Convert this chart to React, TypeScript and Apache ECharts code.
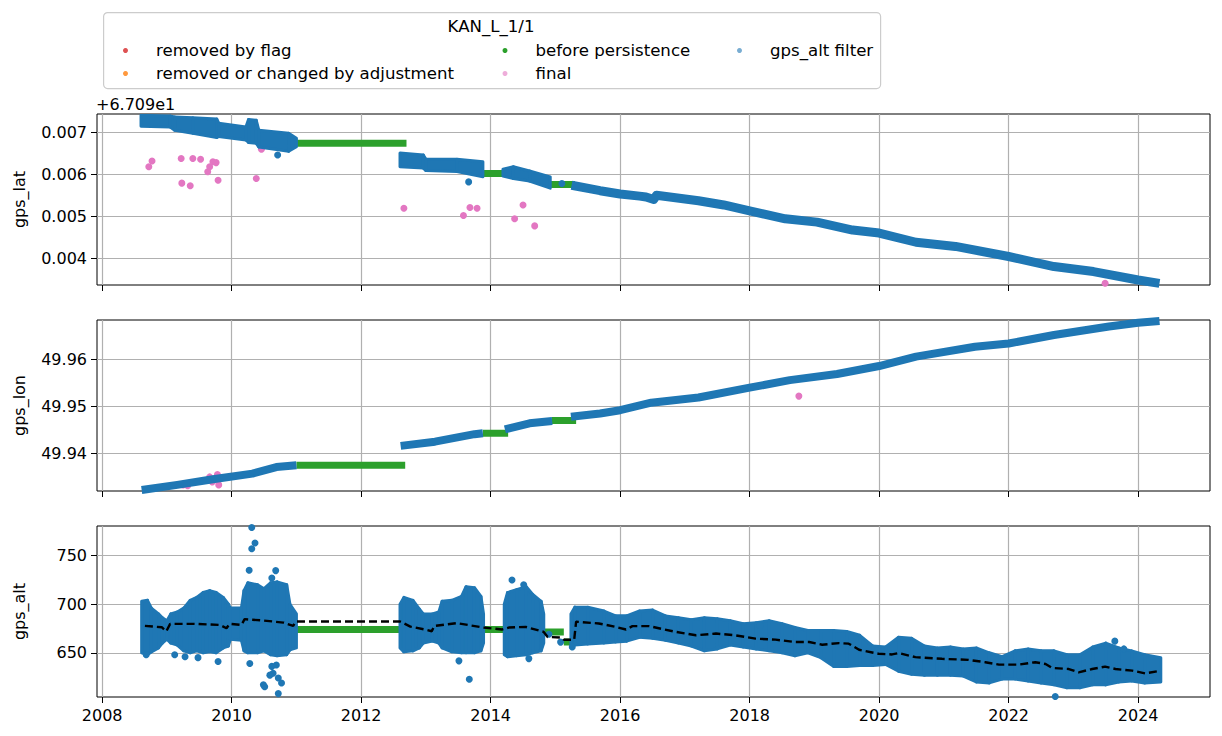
import React, { useEffect, useRef } from "react";
import * as echarts from "echarts";

const FONT = "DejaVu Sans";

// tick labels
const yearTicks = [2008, 2010, 2012, 2014, 2016, 2018, 2020, 2022, 2024];
const latTicks = [0.004, 0.005, 0.006, 0.007];
const lonTicks = [49.94, 49.95, 49.96];
const altTicks = [650, 700, 750];

// gps_lat (offset from 67.09): envelopes of the dense blue clusters [t, low, high]
const latClusters = [
  [
    [2008.6, 0.00715, 0.00741], [2009.05, 0.00713, 0.00739], [2009.12, 0.00705, 0.00737],
    [2009.4, 0.00698, 0.00735], [2009.77, 0.00688, 0.00732], [2009.8, 0.0069, 0.00722],
    [2010.22, 0.00682, 0.00713], [2010.26, 0.00676, 0.00731], [2010.38, 0.00674, 0.00729],
    [2010.42, 0.00665, 0.00705], [2010.88, 0.00655, 0.00698], [2011.0, 0.00666, 0.00686],
  ],
  [
    [2012.6, 0.00618, 0.00651], [2012.96, 0.00615, 0.00646], [2013.0, 0.00609, 0.00636],
    [2013.48, 0.00607, 0.00636], [2013.88, 0.00594, 0.0063],
  ],
  [
    [2014.19, 0.00596, 0.00612], [2014.35, 0.0059, 0.00618], [2014.6, 0.00584, 0.00608],
    [2014.92, 0.00567, 0.00594],
  ],
];
const latTrack = [
  [2015.25, 0.00574], [2015.69, 0.00561], [2016.0, 0.00553], [2016.3, 0.00548],
  [2016.4, 0.00546], [2016.52, 0.0054], [2016.56, 0.0055], [2017.21, 0.00537],
  [2017.6, 0.00527], [2018.0, 0.00513], [2018.55, 0.00494], [2019.04, 0.00486],
  [2019.59, 0.00467], [2020.0, 0.0046], [2020.57, 0.00438], [2021.18, 0.00428],
  [2022.0, 0.00404], [2022.7, 0.0038], [2023.31, 0.00368], [2024.0, 0.00348],
  [2024.33, 0.0034],
];
const latBlueDots = [
  [2010.71, 0.00646], [2013.66, 0.00582], [2015.1, 0.00578],
];
const latFinal = [
  [2008.72, 0.00618], [2008.77, 0.00632], [2009.22, 0.00638], [2009.23, 0.00579],
  [2009.36, 0.00573], [2009.4, 0.00638], [2009.52, 0.00636], [2009.63, 0.00606],
  [2009.66, 0.00618], [2009.71, 0.0063], [2009.76, 0.00628], [2009.79, 0.00586],
  [2010.38, 0.0059], [2010.46, 0.0066], [2012.66, 0.00519], [2013.58, 0.00502],
  [2013.68, 0.00521], [2013.79, 0.00519], [2014.37, 0.00494], [2014.5, 0.00527],
  [2014.68, 0.00477], [2023.49, 0.0034],
];
const latPersist = [
  [[2011.0, 0.00674], [2012.7, 0.00674]],
  [[2013.88, 0.00602], [2014.23, 0.00602]],
  [[2014.92, 0.00576], [2015.3, 0.00576]],
];

// gps_lon
const lonTracks = [
  [[2008.61, 49.9322], [2009.16, 49.9333], [2009.71, 49.9345], [2010.32, 49.9357], [2010.69, 49.9371], [2011.0, 49.9375]],
  [[2012.61, 49.9416], [2013.14, 49.9425], [2013.75, 49.9441], [2013.88, 49.9443]],
  [[2014.22, 49.9451], [2014.6, 49.9464], [2014.95, 49.9469]],
  [[2015.24, 49.9478], [2015.69, 49.9485], [2016.0, 49.9492], [2016.48, 49.9508], [2017.21, 49.9519],
   [2018.0, 49.954], [2018.62, 49.9556], [2019.35, 49.9569], [2020.0, 49.9586], [2020.57, 49.9606],
   [2021.48, 49.9627], [2022.0, 49.9634], [2022.7, 49.9652], [2023.55, 49.967], [2024.0, 49.9678],
   [2024.33, 49.9682]],
];
const lonFinal = [
  [2009.25, 49.9333], [2009.32, 49.9331], [2009.66, 49.935], [2009.7, 49.9339],
  [2009.75, 49.9345], [2009.78, 49.9355], [2009.8, 49.9333], [2018.76, 49.9522],
];
const lonPersist = [
  [[2011.0, 49.9375], [2012.68, 49.9375]],
  [[2013.88, 49.9443], [2014.27, 49.9443]],
  [[2014.94, 49.947], [2015.32, 49.947]],
];

// gps_alt: envelopes [t, low, high]
const altClusters = [
  [
    [2008.61, 650, 703], [2008.7, 648, 704], [2008.76, 651, 696], [2008.87, 655, 690],
    [2008.93, 660, 686], [2009.0, 664, 683], [2009.06, 660, 690], [2009.16, 658, 692],
    [2009.26, 652, 696], [2009.36, 650, 704], [2009.46, 652, 707], [2009.56, 650, 712],
    [2009.66, 651, 714], [2009.76, 650, 712], [2009.87, 655, 707], [2009.95, 657, 700],
    [2009.98, 664, 696], [2010.15, 663, 696], [2010.19, 652, 714], [2010.25, 650, 722],
    [2010.4, 650, 720], [2010.5, 652, 716], [2010.6, 648, 722], [2010.7, 647, 723],
    [2010.85, 648, 720], [2010.9, 653, 700], [2011.0, 655, 690],
  ],
  [
    [2012.6, 655, 700], [2012.66, 651, 707], [2012.8, 652, 704], [2012.9, 655, 695],
    [2012.96, 660, 690], [2013.1, 662, 690], [2013.2, 660, 692], [2013.25, 655, 703],
    [2013.4, 651, 704], [2013.55, 650, 708], [2013.62, 650, 718], [2013.75, 650, 717],
    [2013.85, 652, 708], [2013.89, 660, 690],
  ],
  [
    [2014.21, 648, 700], [2014.26, 646, 712], [2014.4, 647, 715], [2014.55, 648, 718],
    [2014.65, 650, 710], [2014.78, 652, 703], [2014.82, 660, 690],
  ],
  [
    [2015.24, 656, 690], [2015.3, 658, 697], [2015.5, 659, 697], [2015.75, 660, 693],
    [2015.93, 661, 688], [2016.1, 662, 688], [2016.3, 666, 693], [2016.5, 665, 694],
    [2016.7, 663, 688], [2016.9, 660, 686], [2017.1, 657, 684], [2017.3, 652, 686],
    [2017.5, 654, 685], [2017.7, 658, 683], [2017.9, 656, 680], [2018.1, 654, 681],
    [2018.3, 652, 683], [2018.5, 650, 680], [2018.7, 647, 676], [2018.9, 650, 673],
    [2019.1, 645, 673], [2019.3, 636, 673], [2019.5, 636, 672], [2019.7, 637, 668],
    [2019.9, 637, 657], [2020.1, 638, 656], [2020.3, 631, 666], [2020.5, 628, 665],
    [2020.7, 627, 657], [2020.9, 627, 655], [2021.1, 627, 656], [2021.3, 626, 654],
    [2021.5, 620, 655], [2021.7, 619, 650], [2021.9, 623, 646], [2022.1, 623, 652],
    [2022.3, 621, 654], [2022.5, 619, 652], [2022.7, 617, 652], [2022.9, 614, 648],
    [2023.1, 614, 648], [2023.3, 617, 656], [2023.5, 617, 660], [2023.7, 620, 655],
    [2023.9, 621, 652], [2024.1, 619, 648], [2024.35, 620, 645],
  ],
];
const altBlueDots = [
  [2010.31, 779], [2010.36, 763], [2010.31, 757], [2010.27, 735], [2010.68, 734.6],
  [2010.62, 727], [2010.28, 639], [2010.62, 636], [2010.64, 629], [2010.59, 627],
  [2010.72, 624], [2010.49, 617], [2010.51, 615], [2010.72, 608], [2010.77, 619],
  [2010.69, 637.5], [2008.68, 648], [2009.12, 648], [2009.28, 646], [2009.48, 645],
  [2009.79, 641], [2013.51, 641.7], [2013.67, 622.8], [2014.33, 725], [2014.51, 720],
  [2014.59, 644], [2014.9, 669], [2015.08, 661], [2015.26, 656], [2018.16, 678],
  [2022.72, 605], [2023.64, 662], [2023.78, 654],
];
const altPersist = [
  [[2010.95, 674], [2012.66, 674]],
  [[2013.88, 674], [2014.22, 674]],
  [[2014.82, 671.5], [2015.13, 671.5]],
  [[2015.13, 661], [2015.3, 661]],
];
const altMedian = [
  [2008.66, 677.7], [2008.92, 676.3], [2008.99, 672], [2009.05, 679.8], [2009.41, 679.8],
  [2009.82, 678.7], [2009.92, 675.3], [2009.97, 679.8], [2010.15, 678.7], [2010.2, 684.6],
  [2010.49, 683.2], [2010.8, 681.1], [2010.95, 677.7], [2010.99, 682.2], [2012.6, 682.2],
  [2012.76, 677], [2013.01, 673.6], [2013.09, 672.2], [2013.13, 677.7], [2013.48, 680.5],
  [2013.89, 676], [2014.18, 674], [2014.28, 676], [2014.54, 676.7], [2014.82, 671.5],
  [2014.88, 666.3], [2015.1, 665.6], [2015.13, 663.5], [2015.29, 663.5], [2015.32, 682],
  [2015.67, 680.2], [2015.93, 676.7], [2016.09, 674], [2016.19, 677.4], [2016.45, 677.4],
  [2016.86, 671.5], [2017.17, 668], [2017.48, 669.8], [2017.78, 668], [2018.09, 664.6],
  [2018.4, 663.5], [2018.71, 661.1], [2018.92, 661.1], [2019.12, 658.3], [2019.38, 660],
  [2019.53, 659.4], [2019.69, 653.1], [2019.99, 649], [2020.2, 648.3], [2020.3, 649.7],
  [2020.56, 645.5], [2020.97, 643.8], [2021.38, 642.7], [2021.64, 640.3], [2021.85, 637.8],
  [2022.15, 637.8], [2022.41, 640.3], [2022.57, 638.5], [2022.67, 634.4], [2022.93, 633.3],
  [2023.08, 629.9], [2023.29, 633.3], [2023.49, 635.8], [2023.65, 633.3], [2023.91, 631.6],
  [2024.11, 628.8], [2024.29, 630.9],
];

const FLAG = "removed by flag";
const ADJ = "removed or changed by adjustment";
const PERSIST = "before persistence";
const FINAL = "final";
const FILTER = "gps_alt filter";

const C_RED = "#d62728";
const C_ORANGE = "#ff7f0e";
const C_GREEN = "#2ca02c";
const C_PINK = "#e377c2";
const C_BLUE = "#1f77b4";

// consecutive envelope samples of one cluster -> quads
const toQuads = (clusters: number[][][]) =>
  clusters.flatMap((c) => c.slice(1).map((p, i) => [...c[i], ...p]));

const bands = (clusters: number[][][], idx: number) => ({
  type: "custom",
  name: FILTER,
  xAxisIndex: idx,
  yAxisIndex: idx,
  clip: true,
  z: 4,
  silent: true,
  encode: { x: [0, 3], y: [1, 2, 4, 5] },
  data: toQuads(clusters),
  renderItem: (_p: any, api: any) => {
    const a = api.coord([api.value(0), api.value(2)]);
    const b = api.coord([api.value(3), api.value(5)]);
    const c = api.coord([api.value(3), api.value(4)]);
    const d = api.coord([api.value(0), api.value(1)]);
    return {
      type: "polygon",
      shape: { points: [a, b, c, d] },
      style: { fill: C_BLUE, stroke: C_BLUE, lineWidth: 3, lineJoin: "round" },
    };
  },
});

const track = (name: string, pts: number[][], idx: number, color: string, width: number, z: number) => ({
  type: "line",
  name,
  xAxisIndex: idx,
  yAxisIndex: idx,
  data: pts,
  showSymbol: false,
  silent: true,
  z,
  lineStyle: { color, width, cap: "butt", join: "round" },
});

const dots = (name: string, pts: number[][], idx: number, color: string, z: number) => ({
  type: "scatter",
  name,
  xAxisIndex: idx,
  yAxisIndex: idx,
  data: pts,
  symbolSize: 7,
  silent: true,
  z,
  itemStyle: { color, opacity: 1 },
});

const legendColors: Record<string, string> = {
  [FLAG]: C_RED,
  [ADJ]: C_ORANGE,
  [PERSIST]: C_GREEN,
  [FINAL]: "rgba(227,119,194,0.6)",
  [FILTER]: "rgba(31,119,180,0.6)",
};

const legendCol = (left: number, names: string[]) => ({
  orient: "vertical",
  left,
  top: 37,
  itemWidth: 51,
  itemHeight: 5,
  itemGap: 6,
  icon: "circle",
  selectedMode: false,
  textStyle: { fontSize: 16.6, color: "#000", fontFamily: FONT },
  data: names.map((n) => ({ name: n, itemStyle: { color: legendColors[n] } })),
});

const App: React.FC = () => {
  const chartRef = useRef<HTMLDivElement>(null);

  useEffect(() => {
    if (!chartRef.current) return;
    const chart = echarts.init(chartRef.current, null, { renderer: "svg" });

    const grids = [114, 320, 526].map((top) => ({
      left: 97,
      top,
      width: 1113,
      height: 171,
      show: true,
      borderColor: "#000",
      borderWidth: 1,
    }));

    const xAxes = [0, 1, 2].map((i) => ({
      type: "value",
      gridIndex: i,
      min: 2007.92,
      max: 2025.11,
      axisLine: { show: false },
      axisTick: { show: true, customValues: yearTicks, length: 6, lineStyle: { color: "#000" } },
      axisLabel: {
        show: i === 2,
        customValues: yearTicks,
        formatter: (v: number) => String(v),
        color: "#000",
        fontSize: 16,
        fontFamily: FONT,
        margin: 10,
      },
      splitLine: { show: true, lineStyle: { color: "#b0b0b0", width: 1.2 } },
    }));

    const yAxis = (i: number, name: string, min: number, max: number, ticks: number[], digits: number) => ({
      type: "value",
      gridIndex: i,
      min,
      max,
      name,
      nameLocation: "middle",
      nameGap: 70,
      nameTextStyle: { fontSize: 16, color: "#000", fontFamily: FONT },
      axisLine: { show: false },
      axisTick: { show: true, customValues: ticks, length: 6, lineStyle: { color: "#000" } },
      axisLabel: {
        customValues: ticks,
        formatter: (v: number) => v.toFixed(digits),
        color: "#000",
        fontSize: 16,
        fontFamily: FONT,
        margin: 10,
      },
      splitLine: { show: true, lineStyle: { color: "#b0b0b0", width: 1.2 } },
    });

    const series: any[] = [
      { type: "scatter", name: FLAG, xAxisIndex: 0, yAxisIndex: 0, data: [], itemStyle: { color: C_RED } },
      { type: "scatter", name: ADJ, xAxisIndex: 0, yAxisIndex: 0, data: [], itemStyle: { color: C_ORANGE } },
      // gps_lat
      ...latPersist.map((s) => track(PERSIST, s, 0, C_GREEN, 7, 1)),
      dots(FINAL, latFinal, 0, C_PINK, 2),
      bands(latClusters, 0),
      track(FILTER, latTrack, 0, C_BLUE, 9, 4),
      dots(FILTER, latBlueDots, 0, C_BLUE, 4),
      // gps_lon
      ...lonPersist.map((s) => track(PERSIST, s, 1, C_GREEN, 7, 1)),
      dots(FINAL, lonFinal, 1, C_PINK, 2),
      ...lonTracks.map((s) => track(FILTER, s, 1, C_BLUE, 8, 4)),
      // gps_alt
      ...altPersist.map((s) => track(PERSIST, s, 2, C_GREEN, 7, 1)),
      bands(altClusters, 2),
      dots(FILTER, altBlueDots, 2, C_BLUE, 4),
      {
        type: "line",
        name: "median",
        xAxisIndex: 2,
        yAxisIndex: 2,
        data: altMedian,
        showSymbol: false,
        silent: true,
        z: 6,
        lineStyle: { color: "#000", width: 2.4, type: [8, 4] },
      },
    ];

    const option: any = {
      animation: false,
      textStyle: { fontFamily: FONT },
      grid: grids,
      xAxis: xAxes,
      yAxis: [
        yAxis(0, "gps_lat", 0.00336, 0.00744, latTicks, 3),
        yAxis(1, "gps_lon", 49.932, 49.9684, lonTicks, 2),
        yAxis(2, "gps_alt", 604.5, 780.5, altTicks, 0),
      ],
      legend: [
        legendCol(118, [FLAG, ADJ]),
        legendCol(497.5, [PERSIST, FINAL]),
        legendCol(732, [FILTER]),
      ],
      graphic: [
        {
          type: "rect",
          left: 103,
          top: 12,
          shape: { width: 777, height: 76, r: 4 },
          style: { fill: "rgba(255,255,255,0.8)", stroke: "#cccccc", lineWidth: 1.2 },
          z: -1,
        },
        {
          type: "text",
          x: 491,
          y: 26,
          style: {
            text: "KAN_L_1/1",
            fill: "#000",
            font: `16.6px "${FONT}"`,
            align: "center",
            verticalAlign: "middle",
          },
        },
        {
          type: "text",
          x: 96,
          y: 104,
          style: {
            text: "+6.709e1",
            fill: "#000",
            font: `16px "${FONT}"`,
            align: "left",
            verticalAlign: "middle",
          },
        },
      ],
      series,
    };

    chart.setOption(option);
    return () => {
      chart.dispose();
    };
  }, []);

  return (
    <div
      ref={chartRef}
      style={{ position: "fixed", left: 0, top: 0, width: 1222, height: 736, background: "#fff" }}
    />
  );
};

export default App;
